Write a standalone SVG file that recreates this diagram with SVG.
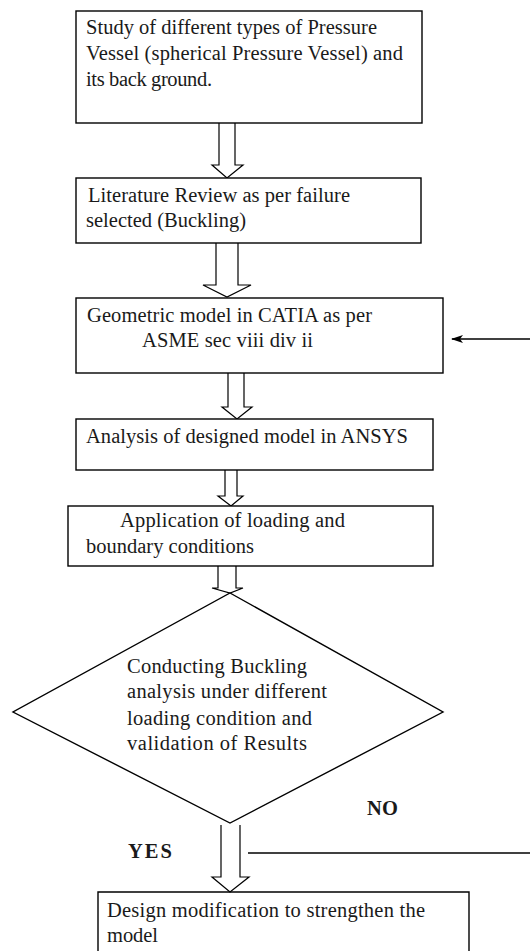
<svg xmlns="http://www.w3.org/2000/svg" width="530" height="951" viewBox="0 0 530 951">
  <style>
    .box { fill: #fff; stroke: #000; stroke-width: 1.4; }
    .blk { fill: #fff; stroke: #000; stroke-width: 1.2; stroke-linejoin: miter; }
    .t { font-family: "Liberation Serif", "Times New Roman", serif; font-size: 20.5px; fill: #1a1a1a; }
    .b { font-weight: bold; }
    .ln { stroke: #000; stroke-width: 1.4; fill: none; }
  </style>
  <defs>
    <marker id="head" markerWidth="12" markerHeight="8" refX="11" refY="4" orient="auto" markerUnits="userSpaceOnUse">
      <path d="M0,0 L12,4 L0,8 L3,4 Z" fill="#000"/>
    </marker>
  </defs>
  <rect width="530" height="951" fill="#fff"/>

  <!-- block arrows and lines between steps -->
  <g id="connectors">
    <path class="blk" d="M219,123 V165 H212 L227,178 L243,165 H235 V123"/>
    <path class="blk" d="M216,243 V285 H203 L227,297 L251,285 H238 V243"/>
    <path class="blk" d="M228,373 V407 H222 L237,419 L252,407 H244 V373"/>
    <path class="blk" d="M225,470 V496 H218 L231,506 L243,496 H237 V470"/>
    <path class="blk" d="M218,566 V588 H212 L230,593 L243,588 H236 V566"/>
    <path class="blk" d="M221,825 V877 H212 L230,892 L249,877 H240 V825"/>
    <line class="ln" x1="530" y1="339" x2="452" y2="339" stroke-width="1.8" marker-end="url(#head)"/>
    <line class="ln" x1="248" y1="853" x2="530" y2="853"/>
    <text class="t b" x="367" y="815" textLength="31">NO</text>
    <text class="t b" x="128" y="858" textLength="44">YES</text>
  </g>

  <g id="study">
    <rect class="box" x="76" y="11" width="346" height="112"/>
    <text class="t" x="86" y="34" textLength="291">Study of different types of Pressure</text>
    <text class="t" x="86" y="60" textLength="317">Vessel (spherical Pressure Vessel) and</text>
    <text class="t" x="86" y="86" textLength="126">its back ground.</text>
  </g>

  <g id="literature">
    <rect class="box" x="76" y="178" width="345" height="65"/>
    <text class="t" x="88" y="202" textLength="262">Literature Review as per failure</text>
    <text class="t" x="86" y="227" textLength="160">selected (Buckling)</text>
  </g>

  <g id="geometry">
    <rect class="box" x="76" y="298" width="367" height="75"/>
    <text class="t" x="87" y="322" textLength="285">Geometric model in CATIA as per</text>
    <text class="t" x="142" y="347" textLength="171">ASME sec viii div ii</text>
  </g>

  <g id="analysis">
    <rect class="box" x="76" y="419" width="357" height="51"/>
    <text class="t" x="86" y="443" textLength="322">Analysis of designed model in ANSYS</text>
  </g>

  <g id="loading">
    <rect class="box" x="68" y="506" width="365" height="60"/>
    <text class="t" x="120" y="527" textLength="225">Application of loading and</text>
    <text class="t" x="86" y="553" textLength="168">boundary conditions</text>
  </g>

  <g id="decision">
    <path class="box" d="M230,593 L443,712 L230,823 L13,712 Z" stroke-width="1.1"/>
    <text class="t" x="127" y="673" textLength="180">Conducting Buckling</text>
    <text class="t" x="127" y="698" textLength="200">analysis under different</text>
    <text class="t" x="127" y="725" textLength="185">loading condition and</text>
    <text class="t" x="127" y="750" textLength="180">validation of  Results</text>
  </g>

  <g id="modification">
    <path class="ln" d="M98,952 V892 H469 V952"/>
    <text class="t" x="107" y="917" textLength="318">Design modification to strengthen the</text>
    <text class="t" x="107" y="942" textLength="51">model</text>
  </g>
</svg>
